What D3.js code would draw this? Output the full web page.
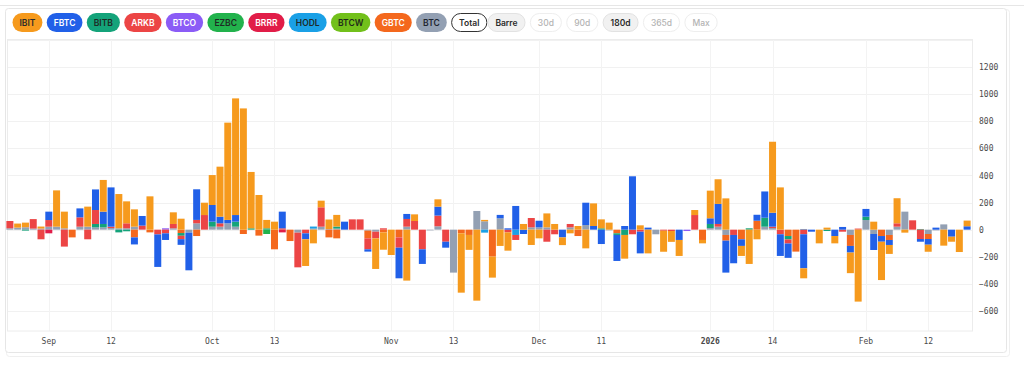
<!DOCTYPE html>
<html>
<head>
<meta charset="utf-8">
<script src="https://cdn.jsdelivr.net/npm/d3@7"></script>
<style>
  body { margin: 0; background: #fff; }
</style>
</head>
<body>
<svg id="chart" width="1024" height="372"></svg>
<script>
// trading days shown on the chart
const dates = [
  "2025-08-25","2025-08-26","2025-08-27","2025-08-28","2025-08-29",
  "2025-09-02","2025-09-03","2025-09-04","2025-09-05","2025-09-08","2025-09-09","2025-09-10","2025-09-11","2025-09-12",
  "2025-09-15","2025-09-16","2025-09-17","2025-09-18","2025-09-19","2025-09-22","2025-09-23","2025-09-24","2025-09-25",
  "2025-09-26","2025-09-29","2025-09-30",
  "2025-10-01","2025-10-02","2025-10-03","2025-10-06","2025-10-07","2025-10-08","2025-10-09","2025-10-10","2025-10-13",
  "2025-10-14","2025-10-15","2025-10-16","2025-10-17","2025-10-20","2025-10-21","2025-10-22","2025-10-23","2025-10-24",
  "2025-10-27","2025-10-28","2025-10-29","2025-10-30","2025-10-31",
  "2025-11-03","2025-11-04","2025-11-05","2025-11-06","2025-11-07","2025-11-10","2025-11-11","2025-11-12","2025-11-13",
  "2025-11-14","2025-11-17","2025-11-18","2025-11-19","2025-11-20","2025-11-21","2025-11-24","2025-11-25","2025-11-26",
  "2025-11-28",
  "2025-12-01","2025-12-02","2025-12-03","2025-12-04","2025-12-05","2025-12-08","2025-12-09","2025-12-10","2025-12-11",
  "2025-12-12","2025-12-15","2025-12-16","2025-12-17","2025-12-18","2025-12-19","2025-12-22","2025-12-23","2025-12-24",
  "2025-12-26","2025-12-29","2025-12-30","2025-12-31",
  "2026-01-02","2026-01-05","2026-01-06","2026-01-07","2026-01-08","2026-01-09","2026-01-12","2026-01-13","2026-01-14",
  "2026-01-15","2026-01-16","2026-01-20","2026-01-21","2026-01-22","2026-01-23","2026-01-26","2026-01-27","2026-01-28",
  "2026-01-29","2026-01-30",
  "2026-02-02","2026-02-03","2026-02-04","2026-02-05","2026-02-06","2026-02-09","2026-02-10","2026-02-11","2026-02-12",
  "2026-02-13","2026-02-17","2026-02-18","2026-02-19","2026-02-20"
];

const tickDates = ["2025-09-02","2025-09-12","2025-10-01","2025-10-13","2025-11-03","2025-11-13",
                   "2025-12-01","2025-12-11","2026-01-02","2026-01-14","2026-02-02","2026-02-12"];
const tickLabels = ["Sep","12","Oct","13","Nov","13","Dec","11","2026","14","Feb","12"];
const yTicks = [-600,-400,-200,0,200,400,600,800,1000,1200];

const funds = ["IBIT","FBTC","BITB","ARKB","BTCO","EZBC","BRRR","HODL","BTCW","GBTC","BTC"];
const fundColors = ["#f69a1d","#2160e8","#14a37a","#ec4545","#8b5cf6","#22b24c","#e11d48","#1aa0e6","#72c01b","#f4681d","#93a0b3"];
const pillTextColors = ["#2a2a2a","#fff","#1f2a25","#fff","#fff","#1f2a25","#fff","#1f2a2a","#1f2a1a","#fff","#1f2530"];
const buttons = ["Total","Barre","30d","90d","180d","365d","Max"];

// daily net flows, $M
const ibit = [0,30,34,0,15,0,268,123,0,0,
  148,0,234,0,253,162,128,0,246,0,
  0,86,81,0,0,91,221,369,718,861,
  895,416,256,62,59,0,0,0,-197,-101,
  49,70,86,0,0,0,0,-226,-128,-187,
  0,-376,49,0,0,54,0,0,-438,-110,
  -524,10,-155,-120,-135,0,42,-113,-64,103,
  42,-57,-27,27,-138,167,66,52,0,-175,
  0,32,-175,0,-155,-80,-118,0,37,-25,
  204,182,231,0,-74,-253,-71,0,524,312,
  0,0,-74,0,-101,15,-54,0,-152,-531,
  0,59,-283,-66,185,-22,0,0,-52,0,
  -118,-37,-165,42];
const fbtc = [0,0,0,0,0,62,0,0,0,66,
  0,152,91,290,0,0,-52,71,0,-240,
  -49,0,-42,-278,226,0,123,49,25,49,
  0,0,0,0,0,123,0,0,-44,0,
  0,0,0,59,0,0,-17,0,0,0,
  -226,37,0,-108,0,66,-44,0,0,0,
  0,0,0,25,10,175,-32,0,49,0,
  0,-57,0,0,165,27,-106,0,-192,27,
  394,-160,15,0,0,0,-76,0,0,0,
  42,148,-236,-209,-49,0,44,194,103,-160,
  -106,0,-251,-15,0,0,-47,20,-49,0,
  57,-118,-42,-37,0,0,0,-20,-42,15,
  0,-52,0,25];
const bitb = [0,0,-7,0,0,0,0,0,0,0,
  0,25,25,0,-20,-12,0,0,0,0,
  0,0,-20,0,0,0,37,0,0,37,
  0,10,0,10,0,0,0,0,0,0,
  0,0,15,0,0,0,0,0,0,0,
  0,0,0,0,0,0,0,0,0,0,
  0,0,0,0,0,0,0,0,0,0,
  0,0,0,0,0,0,10,0,-12,-39,
  0,0,0,0,0,0,0,0,0,0,
  30,0,0,0,0,10,0,66,0,0,
  -25,0,0,0,0,-10,0,0,0,0,
  25,0,0,0,0,0,0,5,0,0,
  0,0,0,0];
const arkb = [54,0,0,70,-71,49,0,-125,0,69,
  -71,103,0,10,0,37,0,30,0,-35,
  -27,32,-25,0,25,108,0,25,0,0,
  0,0,0,0,0,10,0,-256,-27,0,
  143,0,0,0,76,76,-81,-49,10,0,
  -76,57,64,-145,0,79,-89,0,0,0,
  0,0,0,0,-20,-37,0,69,0,-89,
  -34,0,25,0,0,0,0,0,0,0,
  -34,-15,0,0,-8,-10,0,0,108,0,
  0,20,0,-39,0,0,0,0,10,-34,
  -30,0,-34,0,0,0,0,-15,0,8,
  0,0,0,0,25,0,69,-69,0,0,
  0,0,0,0];
const btco = [0,0,0,0,0,0,0,0,0,0,
  0,0,0,0,0,0,0,0,0,0,
  10,0,0,0,0,0,0,0,0,0,
  0,0,0,0,0,0,0,0,0,0,
  0,0,0,0,0,0,0,0,0,0,
  0,0,0,0,0,0,0,0,0,0,
  0,0,0,0,0,0,0,0,0,0,
  0,0,0,0,0,0,0,0,0,0,
  0,0,0,0,0,0,0,-10,0,0,
  0,0,0,0,0,0,0,0,0,0,
  0,0,0,0,0,0,0,0,0,0,
  0,0,0,0,0,0,0,0,0,0,
  0,0,0,0];
const ezbc = [0,0,0,0,0,0,0,0,0,0,
  0,0,0,0,0,0,0,0,0,0,
  0,0,0,0,0,0,0,0,0,0,
  0,0,0,-32,0,0,0,0,0,0,
  0,0,0,0,0,0,0,0,0,0,
  0,0,0,0,0,0,0,0,0,0,
  0,0,0,0,0,0,0,0,0,0,
  0,0,0,0,0,0,0,0,0,0,
  0,0,0,0,0,0,0,0,0,0,
  0,0,0,0,0,0,0,0,0,0,
  0,0,0,0,0,0,0,0,0,0,
  0,0,0,0,0,0,0,0,0,0,
  0,0,0,0];
const brrr = [0,0,0,0,0,-27,0,0,0,0,
  0,0,0,0,0,0,0,0,0,0,
  0,0,0,0,0,0,0,0,0,0,
  0,0,0,0,0,-20,0,0,0,0,
  0,0,0,0,0,0,0,0,0,0,
  0,0,0,0,0,0,0,0,0,0,
  0,0,0,0,0,0,0,0,0,0,
  0,0,0,0,0,0,0,0,0,0,
  0,0,0,0,0,0,0,0,0,0,
  0,0,0,0,0,0,0,0,0,0,
  0,0,0,0,0,0,0,0,0,0,
  0,0,0,0,0,0,0,0,0,0,
  0,0,0,0];
const hodl = [0,0,0,0,0,0,0,0,0,0,
  0,0,0,0,0,0,0,0,0,0,
  0,0,0,0,0,0,0,0,0,0,
  0,0,0,0,0,0,0,0,0,15,
  0,0,0,0,0,0,0,0,0,0,
  0,0,0,0,0,0,0,0,0,0,
  0,-22,0,0,0,-39,0,0,0,0,
  0,0,0,0,0,0,0,0,0,0,
  0,0,0,0,0,0,0,0,0,0,
  0,0,0,0,0,0,0,0,0,0,
  0,0,5,0,0,0,0,0,0,0,
  0,0,0,0,0,0,0,0,0,0,
  0,0,0,0];
const btcw = [0,0,0,0,0,0,0,0,0,0,
  0,0,0,0,0,0,0,0,0,0,
  0,0,0,0,0,0,0,0,0,0,
  0,0,0,0,0,0,0,0,0,0,
  0,0,0,0,0,0,0,0,0,0,
  0,0,0,0,0,0,0,0,0,0,
  0,0,0,0,0,0,0,0,0,0,
  0,0,0,0,0,0,0,0,0,0,
  0,0,0,0,0,0,0,0,0,0,
  0,0,0,0,0,0,0,0,0,0,
  0,0,0,0,0,0,0,0,0,0,
  0,0,0,0,0,0,0,0,0,0,
  0,0,0,0];
const gbtc = [0,0,0,0,0,0,0,0,-57,0,
  0,0,0,0,0,0,-57,0,-20,0,
  0,0,-25,0,-47,0,0,0,0,0,
  -32,0,-44,0,-145,0,-84,0,0,0,
  0,-57,-64,0,0,0,-57,0,-20,0,
  -57,0,0,0,0,0,0,0,-27,-39,
  0,0,-199,0,0,0,0,0,0,0,
  0,0,0,-47,0,0,0,0,-27,0,
  0,0,0,0,0,0,0,0,0,-76,
  0,0,-42,0,-71,0,66,0,0,0,
  -47,-162,0,0,0,0,0,0,-81,0,
  0,0,-47,-37,0,0,0,0,-37,0,
  0,0,0,0];
const btc = [10,15,18,8,8,22,22,10,0,22,
  22,17,17,12,10,10,22,0,0,0,
  0,10,0,-22,47,0,22,22,47,22,
  0,0,0,0,0,0,0,-22,0,8,
  22,5,8,0,0,0,-7,-15,0,0,
  0,22,0,0,-5,25,0,-317,0,0,
  138,62,0,84,0,0,0,17,17,17,
  0,0,17,0,34,0,0,-5,0,0,
  0,0,0,-34,0,0,0,0,0,0,
  12,22,-39,0,0,0,0,22,12,0,
  0,0,0,0,0,0,0,0,-39,0,
  71,-32,0,-39,22,133,0,0,-32,-5,
  39,0,0,0];

const flows = [ibit, fbtc, bitb, arkb, btco, ezbc, brrr, hodl, btcw, gbtc, btc];

// stacking order, nearest to zero first
const stackOrder = ["BTC","GBTC","BITB","HODL","EZBC","BTCO","BRRR","BTCW","ARKB","FBTC","IBIT"];

let rows = dates.map(function(d, i) {
  let r = { date: d };
  funds.forEach(function(f, k) { r[f] = flows[k][i]; });
  return r;
});
let colorOf = d3.scaleOrdinal().domain(funds).range(fundColors);

let svg = d3.select("#chart");
const plot = { left: 7, right: 972, top: 40, bottom: 331 };

// top strip and card
svg.append("rect").attr("x", -2).attr("y", -20).attr("width", 1028).attr("height", 25.5)
   .attr("fill", "#fff").attr("stroke", "#e6e6e6");
svg.append("rect").attr("x", 6.5).attr("y", 9.5).attr("width", 1003).attr("height", 347)
   .attr("fill", "none").attr("stroke", "#efefef").attr("rx", 3);
svg.append("rect").attr("x", 5.5).attr("y", 8.5).attr("width", 1001).attr("height", 344)
   .attr("fill", "#fff").attr("stroke", "#e6e6e6").attr("rx", 3);

// fund pills + view buttons
let pillX = 12.5;
let pills = svg.append("g");
funds.forEach(function(f, k) {
  let g = pills.append("g");
  let t = g.append("text").text(f)
    .attr("y", 25.6).attr("font-family", "Inter, 'Noto Sans', sans-serif")
    .attr("font-size", "8.5px").attr("font-weight", 600).attr("fill", pillTextColors[k]);
  let w = t.node().getComputedTextLength() + 14;
  g.insert("rect", "text").attr("x", pillX).attr("y", 13).attr("width", w).attr("height", 19)
    .attr("rx", 9.5).attr("fill", fundColors[k]);
  t.attr("x", pillX + w / 2).attr("text-anchor", "middle");
  pillX += w + 4.3;
});
buttons.forEach(function(b, k) {
  let active = b === "Total" || b === "Barre" || b === "180d";
  let g = pills.append("g");
  let t = g.append("text").text(b)
    .attr("y", 25.6).attr("font-family", "Inter, 'Noto Sans', sans-serif")
    .attr("font-size", "8.5px").attr("font-weight", active ? 600 : 500)
    .attr("fill", active ? "#2b2b2b" : "#b3b3b3");
  let w = t.node().getComputedTextLength() + 16;
  let fill = (b === "Barre" || b === "180d") ? "#f1f1f1" : "#fff";
  let stroke = b === "Total" ? "#333" : (active ? "#e2e2e2" : "#eeeeee");
  g.insert("rect", "text").attr("x", pillX + 0.5).attr("y", 13.5).attr("width", w - 1).attr("height", 18)
    .attr("rx", 9).attr("fill", fill).attr("stroke", stroke);
  t.attr("x", pillX + w / 2).attr("text-anchor", "middle");
  pillX += w + (b === "Total" ? 0 : 4.3);
});

// scales
let xScale = d3.scaleBand().domain(dates).range([6, 971]).paddingInner(0.1).paddingOuter(0.05);
let yScale = d3.scaleLinear().domain([-748, 1400]).range([plot.bottom, plot.top]);

// grid
let grid = svg.append("g");
grid.selectAll("line.h").data(yTicks.concat([1400])).enter().append("line")
  .attr("x1", plot.left).attr("x2", plot.right)
  .attr("y1", d => Math.round(yScale(d)) + 0.5).attr("y2", d => Math.round(yScale(d)) + 0.5)
  .attr("stroke", "#f1f1f1");
grid.selectAll("line.v").data(tickDates).enter().append("line")
  .attr("x1", d => Math.round(xScale(d) + xScale.bandwidth() / 2) + 0.5)
  .attr("x2", d => Math.round(xScale(d) + xScale.bandwidth() / 2) + 0.5)
  .attr("y1", plot.top).attr("y2", plot.bottom)
  .attr("stroke", "#f3f3f3");
svg.append("rect").attr("x", plot.left + 0.5).attr("y", plot.top - 0.5)
  .attr("width", plot.right - plot.left).attr("height", plot.bottom - plot.top + 0.5)
  .attr("fill", "none").attr("stroke", "#ececec");

// stacked bars
let series = d3.stack().keys(stackOrder).offset(d3.stackOffsetDiverging)(rows);
svg.append("g").selectAll("g").data(series).enter().append("g")
  .attr("fill", d => colorOf(d.key))
  .selectAll("rect")
  .data(d => d.filter(s => s[1] !== s[0]))
  .enter().append("rect")
    .attr("x", d => xScale(d.data.date))
    .attr("width", xScale.bandwidth())
    .attr("y", d => yScale(Math.max(d[0], d[1])))
    .attr("height", d => Math.abs(yScale(d[0]) - yScale(d[1])));

// y axis on the right
let rightAxis = d3.axisRight(yScale).tickValues(yTicks).tickFormat(d3.format("d")).tickSize(0).tickPadding(7);
let ya = svg.append("g").attr("transform", "translate(" + plot.right + ",0)").call(rightAxis);
ya.select(".domain").remove();
ya.selectAll("text").attr("font-family", "'DejaVu Sans Mono', monospace")
  .attr("font-size", "8px").attr("fill", "#4a4a4a");

// x axis labels
let bottomAxis = d3.axisBottom(xScale).tickValues(tickDates)
  .tickFormat(d => tickLabels[tickDates.indexOf(d)]).tickSize(0).tickPadding(7);
let xa = svg.append("g").attr("transform", "translate(0," + plot.bottom + ")").call(bottomAxis);
xa.select(".domain").remove();
xa.selectAll("text").attr("font-family", "'DejaVu Sans Mono', monospace")
  .attr("font-size", "8px").attr("fill", "#4a4a4a")
  .attr("font-weight", d => d === "2026-01-02" ? 700 : 400);
</script>
</body>
</html>
